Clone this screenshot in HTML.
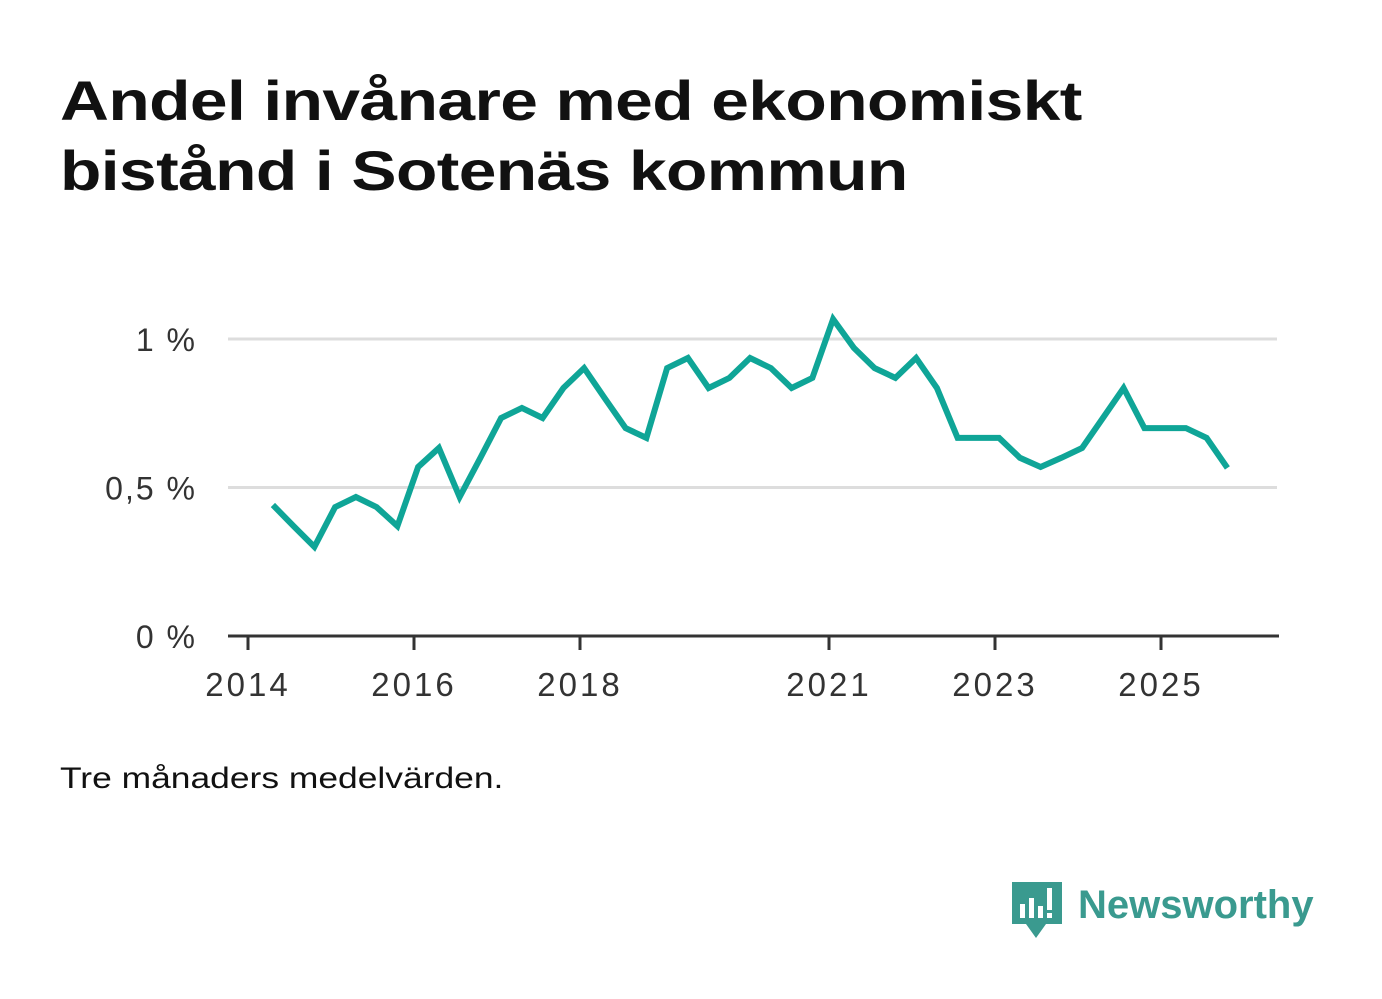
<!DOCTYPE html>
<html><head><meta charset="utf-8"><style>
body{margin:0;background:#fff;width:1382px;height:999px;overflow:hidden;font-family:"Liberation Sans",sans-serif}
h1{position:absolute;left:60px;top:66px;margin:0;font-size:56px;line-height:70px;font-weight:bold;color:#111;letter-spacing:-0.5px;transform:scaleX(1.21);transform-origin:0 0;white-space:nowrap}
.note{position:absolute;left:60px;top:762px;font-size:30px;color:#111;transform:scaleX(1.18);transform-origin:0 0;white-space:nowrap}
</style></head><body>
<h1>Andel invånare med ekonomiskt<br>bistånd i Sotenäs kommun</h1>
<svg id="chart" width="1382" height="999" style="position:absolute;left:0;top:0"></svg>
<div class="note">Tre månaders medelvärden.</div>
<svg width="320" height="70" style="position:absolute;left:1010px;top:876px">
<path d="M2 6h50v42H36l-10 14-10-14H2z" fill="#3a9a8f"/>
<rect x="10" y="28" width="5" height="14" fill="#fff"/><rect x="19" y="22" width="5" height="20" fill="#fff"/><rect x="28" y="30" width="5" height="12" fill="#fff"/><rect x="37" y="12" width="5" height="22" fill="#fff"/><rect x="37" y="37" width="5" height="5" fill="#fff"/>
<text x="68" y="42" font-family="Liberation Sans" font-size="40" font-weight="bold" fill="#3a9a8f">Newsworthy</text>
</svg>
<script>
const values=[0.441,0.37,0.30,0.434,0.468,0.434,0.37,0.569,0.633,0.468,0.6,0.734,0.768,0.734,0.835,0.902,0.80,0.70,0.667,0.902,0.936,0.835,0.869,0.936,0.902,0.835,0.869,1.067,0.97,0.902,0.869,0.936,0.835,0.667,0.667,0.667,0.6,0.569,0.6,0.633,0.734,0.835,0.70,0.70,0.70,0.667,0.566];
const yTicks=[0,0.5,1];
const yTickLabels=["0 %","0,5 %","1 %"];
const xTicks=[2014,2016,2018,2021,2023,2025];
const startYear=2014.3;
const svg=document.getElementById('chart');
const NS='http://www.w3.org/2000/svg';
const x=t=>248+(t-2014)*83;
const y=v=>636-v*297;
function mk(tag,attrs){const e=document.createElementNS(NS,tag);for(const k in attrs)e.setAttribute(k,attrs[k]);svg.appendChild(e);return e;}
yTicks.forEach((v,i)=>{
 if(v>0){const g=mk('line',{x1:228,x2:1277,y1:y(v),y2:y(v),stroke:'#ddd','stroke-width':3});
 
 }
 const t=mk('text',{x:197,y:y(v)+12,'text-anchor':'end','font-size':32,'letter-spacing':2,fill:'#333','font-family':'Liberation Sans'});
 t.textContent=yTickLabels[i];
 
 
});
const ax=mk('line',{x1:228,x2:1279,y1:636,y2:636,stroke:'#333','stroke-width':3});


xTicks.forEach(yr=>{
 const tk=mk('line',{x1:x(yr),x2:x(yr),y1:636,y2:650,stroke:'#333','stroke-width':3});
 
 
 const t=mk('text',{x:x(yr),y:696,'text-anchor':'middle','font-size':33,'letter-spacing':3,fill:'#333','font-family':'Liberation Sans'});
 t.textContent=yr;
 
 
});
const pts=values.map((v,i)=>x(startYear+i*0.25).toFixed(1)+','+y(v).toFixed(1)).join(' ');
const line=mk('polyline',{points:pts,fill:'none',stroke:'#0fa597','stroke-width':6,'stroke-linejoin':'miter'});


</script>
</body></html>
